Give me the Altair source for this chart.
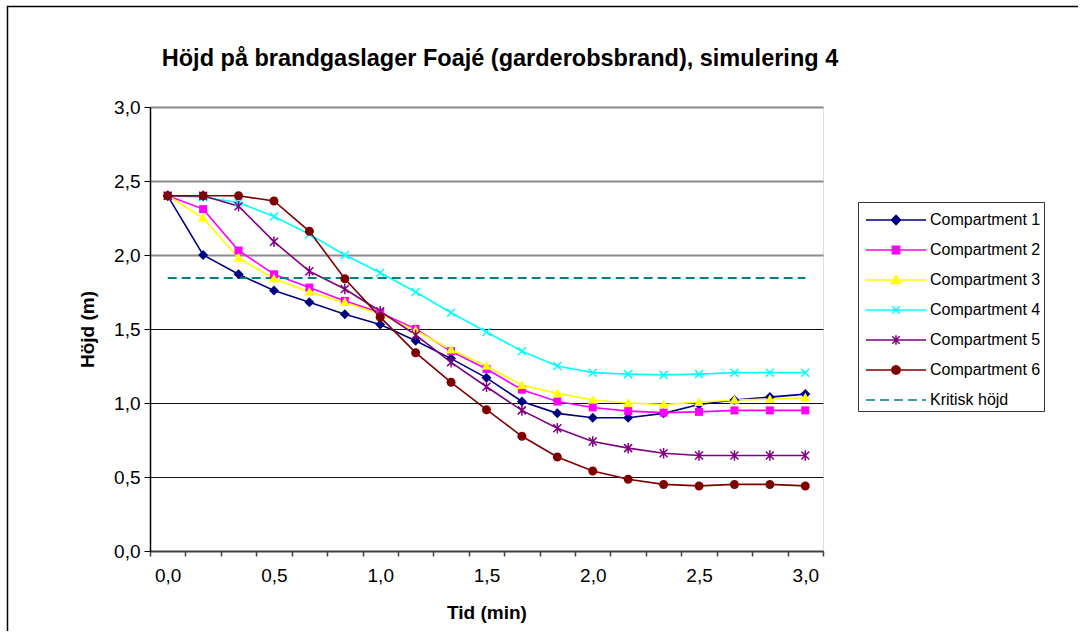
import altair as alt
import pandas as pd

# ---------------- data ----------------
t_labels = ["0,0", "0,2", "0,3", "0,5", "0,7", "0,8", "1,0", "1,2", "1,3", "1,5",
            "1,7", "1,8", "2,0", "2,2", "2,3", "2,5", "2,7", "2,8", "3,0"]
shown_labels = ["0,0", "0,5", "1,0", "1,5", "2,0", "2,5", "3,0"]

series_names = ["Compartment 1", "Compartment 2", "Compartment 3", "Compartment 4",
                "Compartment 5", "Compartment 6", "Kritisk höjd"]

comp1 = [2.40, 2.00, 1.87, 1.76, 1.68, 1.60, 1.53, 1.42, 1.30, 1.17, 1.01, 0.93, 0.90, 0.90, 0.93, 0.99, 1.02, 1.04, 1.06]
comp2 = [2.40, 2.31, 2.03, 1.87, 1.78, 1.69, 1.61, 1.50, 1.35, 1.23, 1.09, 1.01, 0.97, 0.945, 0.935, 0.94, 0.95, 0.95, 0.95]
comp3 = [2.40, 2.25, 1.98, 1.84, 1.75, 1.68, 1.60, 1.49, 1.36, 1.25, 1.12, 1.065, 1.02, 1.00, 0.99, 1.005, 1.02, 1.025, 1.035]
comp4 = [2.40, 2.39, 2.355, 2.26, 2.14, 2.00, 1.88, 1.75, 1.61, 1.48, 1.35, 1.25, 1.205, 1.195, 1.19, 1.195, 1.205, 1.205, 1.205]
comp5 = [2.40, 2.40, 2.33, 2.09, 1.89, 1.77, 1.62, 1.46, 1.275, 1.11, 0.95, 0.83, 0.74, 0.695, 0.66, 0.645, 0.645, 0.645, 0.645]
comp6 = [2.40, 2.40, 2.40, 2.365, 2.16, 1.84, 1.58, 1.34, 1.14, 0.955, 0.775, 0.635, 0.54, 0.485, 0.45, 0.44, 0.45, 0.45, 0.44]
kritisk = [1.845] * 19

all_values = [comp1, comp2, comp3, comp4, comp5, comp6, kritisk]

title_text = "Höjd på brandgaslager Foajé (garderobsbrand), simulering 4"

colors = ["#000080", "#FF00FF", "#FFFF00", "#00FFFF", "#800080", "#800000", "#008080"]
marker_kind = ["diamond", "square", "triangle", "x", "asterisk", "circle", None]

rows = []
for name, vals in zip(series_names, all_values):
    for t, v in zip(t_labels, vals):
        rows.append({"t": t, "series": name, "value": v})
df = pd.DataFrame(rows)

# ---------------- marker paths ----------------
MARKERS = {
    "diamond": ([[(0, -1), (1, 0), (0, 1), (-1, 0)]], True),
    "square": ([[(-0.8, -0.8), (0.8, -0.8), (0.8, 0.8), (-0.8, 0.8)]], True),
    "triangle": ([[(0, -1), (1, 0.75), (-1, 0.75)]], True),
    "x": ([[(-0.8, -0.8), (0.8, 0.8)], [(-0.8, 0.8), (0.8, -0.8)]], False),
    "asterisk": ([[(-0.8, -0.8), (0.8, 0.8)], [(-0.8, 0.8), (0.8, -0.8)], [(0, -1.05), (0, 1.05)]], False),
}


def fmt(v):
    return ("%.3f" % v).rstrip("0").rstrip(".")


def marker_path(kind, k=1.0, dx=0.0):
    if kind is None:
        return ""
    if kind == "circle":
        r = 0.9 * k
        return "M%s,0A%s,%s 0 1,0 %s,0A%s,%s 0 1,0 %s,0Z" % (
            fmt(dx - r), fmt(r), fmt(r), fmt(dx + r), fmt(r), fmt(r), fmt(dx - r))
    polys, closed = MARKERS[kind]
    out = ""
    for poly in polys:
        pts = ["%s,%s" % (fmt(dx + x * k), fmt(y * k)) for x, y in poly]
        out += "M" + "L".join(pts) + ("Z" if closed else "")
    return out


# legend symbols: horizontal line with marker in the middle
LEG_S = 28                 # symbol box in px
LEG_U = LEG_S / 2.0        # px per path unit
line_end = (60 - LEG_U) / LEG_U
mark_pos = (30 - LEG_U) / LEG_U
leg_paths = []
for kind in marker_kind:
    p = "M-1,0H%s" % fmt(line_end)
    p += marker_path(kind, k=4.6 / LEG_U, dx=mark_pos)
    leg_paths.append(p)
dashes = [[1, 0]] * 6 + [[9, 5]]

FONT = "Liberation Sans"

# ---------------- axes ----------------
x_axis = alt.Axis(
    title="Tid (min)", labelAngle=0, tickBand="extent", grid=False,
    labelExpr="indexof(%s, datum.value) >= 0 ? datum.label : ''" % str(shown_labels),
    tickSize=5, tickColor="#404040", tickWidth=1.5,
    domainColor="#404040", domainWidth=2,
    labelFont=FONT, labelFontSize=19, labelColor="black", labelPadding=10,
    titleFont=FONT, titleFontSize=19, titleFontWeight="bold", titleColor="black", titlePadding=18,
)
y_axis = alt.Axis(
    title="Höjd (m)", values=[0, 0.5, 1.0, 1.5, 2.0, 2.5, 3.0], format=".1f",
    labelExpr="replace(datum.label, '.', ',')",
    grid=True,
    gridColor={"condition": {"test": "datum.value >= 2", "value": "#8a8a8a"}, "value": "#111111"},
    gridWidth={"condition": {"test": "datum.value >= 2", "value": 2}, "value": 1},
    tickSize=6, tickColor="black", domainColor="black", domainWidth=1.5,
    labelFont=FONT, labelFontSize=19, labelColor="black", labelPadding=4,
    titleFont=FONT, titleFontSize=19, titleFontWeight="bold", titleColor="black", titlePadding=16,
)

x_enc = alt.X("t:O", sort=t_labels, bandPosition=0.5,
              scale=alt.Scale(type="band", domain=t_labels, paddingInner=0, paddingOuter=0),
              axis=x_axis)
y_enc = alt.Y("value:Q", scale=alt.Scale(domain=[0, 3], nice=False, zero=True), axis=y_axis)

base = alt.Chart(df)
layers = []

# outer chart frame (left and top edges visible) and the chart title
frame_df = pd.DataFrame({"a": [0]})
layers.append(alt.Chart(frame_df).mark_rule(color="black", strokeWidth=1.5).encode(
    x=alt.value(-142.5), y=alt.value(-101), y2=alt.value(560)))
layers.append(alt.Chart(frame_df).mark_rule(color="black", strokeWidth=1.5).encode(
    x=alt.value(-143), x2=alt.value(960), y=alt.value(-100.5)))
layers.append(alt.Chart(frame_df).mark_text(
    font=FONT, fontSize=23.5, fontWeight="bold", color="black",
    align="center", baseline="alphabetic").encode(
    x=alt.value(350), y=alt.value(-41), text=alt.value(title_text)))

# series lines and markers
for i, name in enumerate(series_names):
    sub = base.transform_filter(alt.datum.series == name)
    if name == "Kritisk höjd":
        layers.append(sub.mark_line(color=colors[i], strokeWidth=2, strokeDash=[9, 5]).encode(x=x_enc, y=y_enc))
    else:
        layers.append(sub.mark_line(color=colors[i], strokeWidth=1.6).encode(x=x_enc, y=y_enc))
for i, name in enumerate(series_names):
    kind = marker_kind[i]
    if kind is None:
        continue
    sub = base.transform_filter(alt.datum.series == name)
    filled = kind not in ("x", "asterisk")
    if filled:
        mk = sub.mark_point(shape=marker_path(kind), size=100, filled=True, color=colors[i], opacity=1)
    else:
        mk = sub.mark_point(shape=marker_path(kind), size=100, filled=False, color=colors[i],
                            strokeWidth=1.5, opacity=1)
    layers.append(mk.encode(x=x_enc, y=y_enc))

# legend-only layer (no data drawn)
leg = alt.Legend(
    orient="none", legendX=708, legendY=95, title=None,
    padding=3, symbolOffset=4, labelOffset=35, rowPadding=7,
    labelFont=FONT, labelFontSize=16, labelColor="black", labelLimit=400,
    strokeColor="#333333", fillColor="white",
    symbolSize=LEG_S * LEG_S, symbolStrokeWidth=1.5,
)
sc = dict(domain=series_names)
legend_layer = base.transform_filter("false").mark_point(
    filled=True, size=LEG_S * LEG_S, strokeWidth=1.5, opacity=1).encode(
    fill=alt.Fill("series:N", scale=alt.Scale(range=colors, **sc), legend=leg),
    stroke=alt.Stroke("series:N", scale=alt.Scale(range=colors, **sc), legend=leg),
    shape=alt.Shape("series:N", scale=alt.Scale(range=leg_paths, **sc), legend=leg),
    strokeDash=alt.StrokeDash("series:N", scale=alt.Scale(range=dashes, **sc), legend=leg),
)
layers.append(legend_layer)

chart = alt.layer(*layers).properties(
    width=673, height=444,
    padding={"left": 150, "top": 107, "right": 255, "bottom": 80},
    autosize=alt.AutoSizeParams(type="none"),
).configure_view(stroke="#a0a0a0", strokeWidth=2).configure(background="white")

chart.save("out.html", embed_options={"renderer": "svg", "actions": False})
